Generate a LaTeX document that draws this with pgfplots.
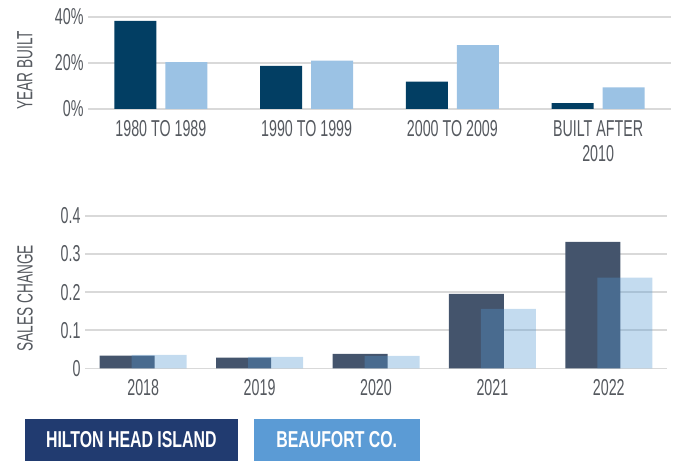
\documentclass[border=0pt]{standalone}
\usepackage{fontspec}
\setmainfont[FakeStretch=0.62]{Liberation Sans}
\newfontfamily\legfont[FakeStretch=0.69]{Liberation Sans}
\usepackage{pgfplots}
\pgfplotsset{compat=1.18}

\definecolor{txt}{HTML}{55595F}
\definecolor{gridgrey}{HTML}{D9D9D9}
\definecolor{topdark}{HTML}{023E63}
\definecolor{toplight}{HTML}{9BC2E4}
\definecolor{botdark}{HTML}{44546C}
\definecolor{botlight}{HTML}{5498D1}
\definecolor{legdark}{HTML}{213B70}
\definecolor{leglight}{HTML}{5B9BD5}

\pgfplotsset{
  panel/.style={
    scale only axis,
    ybar,
    axis line style={draw=none},
    major tick length=0pt,
    ymajorgrids,
    grid style={draw=gridgrey, line width=1.5pt},
    tick label style={font=\fontsize{23}{25}\selectfont, text=txt},
    yticklabel style={xshift=-1pt},
    xticklabel style={yshift=-8pt, align=center},
    ylabel style={font=\fontsize{22}{24}\selectfont, text=txt, anchor=center},
    /pgf/number format/assume math mode=true,
  }
}

\begin{document}
\begin{tikzpicture}
\useasboundingbox (0pt,0pt) rectangle (676pt,462pt);

% year built
\begin{axis}[panel,
  at={(88pt,353pt)}, anchor=south west,
  width=583pt, height=92pt,
  xmin=-0.5, xmax=3.5, ymin=0, ymax=40,
  xtick={0,1,2,3},
  xticklabels={1980 TO 1989, 1990 TO 1999, 2000 TO 2009, BUILT AFTER\\2010},
  ytick={0,20,40}, yticklabels={0\%,20\%,40\%},
  ylabel={YEAR BUILT},
  ylabel style={at={(axis description cs:-0.108,0.42)}},
  bar width=42pt]
\addplot[fill=topdark, draw=none, bar shift=-25.5pt] coordinates {(0,38.3) (1,18.7) (2,11.9) (3,2.5)};
\addplot[fill=toplight, draw=none, bar shift=25.5pt] coordinates {(0,20.4) (1,21.0) (2,27.8) (3,9.4)};
\end{axis}

% sales change
\begin{axis}[panel,
  at={(85pt,93.7pt)}, anchor=south west,
  width=582pt, height=152.3pt,
  xmin=-0.5, xmax=4.5, ymin=0, ymax=0.4,
  xtick={0,1,2,3,4},
  xticklabels={2018,2019,2020,2021,2022},
  ytick={0,0.1,0.2,0.3,0.4}, yticklabels={0,0.1,0.2,0.3,0.4},
  ylabel={SALES CHANGE},
  ylabel style={at={(axis description cs:-0.103,0.46)}},
  bar width=55pt]
\addplot[fill=botdark, draw=none, bar shift=-16pt] coordinates {(0,0.033) (1,0.028) (2,0.0376) (3,0.1955) (4,0.332)};
\addplot[fill=botlight, fill opacity=0.35, draw=none, bar shift=16pt] coordinates {(0,0.035) (1,0.030) (2,0.0324) (3,0.156) (4,0.238)};
\end{axis}

% legend
\node[fill=legdark, text=white, minimum width=212.7pt, minimum height=41.7pt, inner sep=0pt,
  font=\legfont\bfseries\fontsize{23}{25}\selectfont] at (131.3pt,22.15pt) {HILTON HEAD ISLAND};
\node[fill=leglight, text=white, minimum width=166pt, minimum height=41.7pt, inner sep=0pt,
  font=\legfont\bfseries\fontsize{23}{25}\selectfont] at (336.7pt,22.15pt) {BEAUFORT CO.};
\end{tikzpicture}
\end{document}
